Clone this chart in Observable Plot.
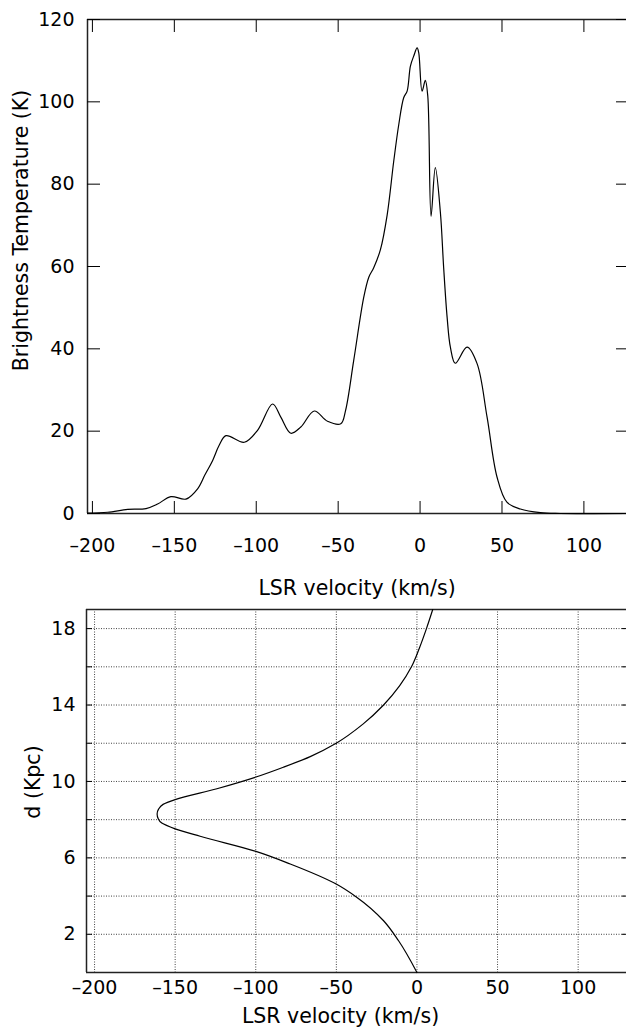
<!DOCTYPE html>
<html><head><meta charset="utf-8">
<script src="https://cdn.jsdelivr.net/npm/d3@7"></script>
<script src="https://cdn.jsdelivr.net/npm/@observablehq/plot@0.6"></script>
<style>body{margin:0;background:#fff;} #c svg{display:block;}</style>
</head><body><div id="c"></div>
<script>
// ---- data ----
const topVelocity = [-203, -190.7, -178.5, -167.3, -160.2, -152.1, -142.9, -135.8, -131.3, -126.6, -122.7, -118.5, -107.3, -99.2, -90.0, -85.0, -78.9, -72.8, -64.6, -56.5, -48.4, -45.5, -40.5, -34.4, -31.3, -28.3, -24.2, -20.1, -16.1, -13.0, -10.0, -7.9, -5.9, -3.9, -1.8, -0.8, 1.2, 3.2, 4.7, 6.7, 9.3, 12.4, 14.4, 16.5, 18.5, 21.5, 28.7, 34.8, 40.9, 47.0, 53.0, 61.2, 73.4, 85.5, 126];
const topTemperature = [0.1, 0.3, 1.0, 1.2, 2.3, 4.1, 3.5, 6.0, 9.4, 12.9, 16.5, 18.9, 17.3, 20.2, 26.6, 23.4, 19.5, 21.0, 24.9, 22.4, 21.8, 25.0, 37.2, 52.5, 57.4, 59.7, 64.1, 72.5, 85.5, 94.5, 101.0, 102.6, 108.7, 111.1, 113.1, 111.9, 102.6, 105.2, 101.4, 72.2, 84.0, 73.1, 59.7, 47.7, 40.4, 36.5, 40.4, 36.4, 23.4, 8.8, 2.75, 1.1, 0.2, 0, 0];
const curveDistance = [0, 1.66, 2.71, 3.93, 4.63, 5.68, 6.34, 7.13, 7.52, 7.82, 8.05, 8.3, 8.55, 8.8, 9.05, 9.62, 10.23, 10.75, 11.3, 12.0, 13.0, 14.0, 15.0, 16.0, 17.0, 18.0, 19.0];
const curveVelocity = [0, -11.4, -20.7, -37.2, -50.1, -78.6, -99.9, -134.5, -150, -158.3, -160.5, -161.2, -160.3, -157.5, -150, -124.1, -99.9, -82.7, -66.2, -50.1, -33.5, -20.7, -10.8, -3.4, 1.6, 5.9, 9.8];

const velocityTicks = [-200, -150, -100, -50, 0, 50, 100];
const temperatureTicks = [0, 20, 40, 60, 80, 100, 120];
const distanceLabelTicks = [2, 6, 10, 14, 18];
const distanceGridTicks = [2, 4, 6, 8, 10, 12, 14, 16, 18];
const topXDomain = [-203, 126];
const topYDomain = [0, 120];
const botXDomain = [-205, 130];
const botYDomain = [0, 19];
const xLabel = "LSR velocity (km/s)";
const topYLabel = "Brightness Temperature (K)";
const botYLabel = "d (Kpc)";

// ---- build ----
const fmt = d => d < 0 ? "\u2013" + Math.abs(d) : String(d);
const blank = () => "";
const spectrum = topVelocity.map((v, i) => ({v, t: topTemperature[i]}));
const rotation = curveDistance.map((d, i) => ({d, v: curveVelocity[i]}));
const font = "'DejaVu Sans', sans-serif";
const style = {fontFamily: font, fontSize: "19px", background: "white", color: "black", overflow: "visible"};
const frameStyle = {stroke: "#222", strokeWidth: 1.5};
const labelStyle = {text: d => d, fontSize: 20.5, textAnchor: "middle", lineAnchor: "middle"};
const tickStyle = {stroke: "#444", label: null};

const topChart = Plot.plot({
  width: 626, height: 600,
  marginTop: 19, marginBottom: 87, marginLeft: 87, marginRight: 0,
  style,
  x: {domain: topXDomain, label: null},
  y: {domain: topYDomain, label: null},
  marks: [
    Plot.ruleY([topYDomain[0], topYDomain[1]], frameStyle),
    Plot.ruleX([topXDomain[0]], frameStyle),
    Plot.axisX(velocityTicks, {anchor: "bottom", tickSize: -12, tickPadding: 37, tickFormat: fmt, label: null}),
    Plot.axisX(velocityTicks, {anchor: "top", tickSize: -12, tickFormat: blank, label: null}),
    Plot.axisY(temperatureTicks, {anchor: "left", tickSize: -13, tickPadding: 26, tickFormat: fmt, label: null}),
    Plot.axisY(temperatureTicks, {anchor: "right", tickSize: -11, tickFormat: blank, label: null}),
    Plot.line(spectrum, {x: "v", y: "t", curve: "catmull-rom", stroke: "black", strokeWidth: 1.2}),
    Plot.text([xLabel], {...labelStyle, frameAnchor: "bottom", dy: 75}),
    Plot.text([topYLabel], {...labelStyle, frameAnchor: "left", rotate: -90, dx: -66, dy: -36})
  ]
});

const grid = {stroke: "#444", strokeOpacity: 1, strokeDasharray: "1,1.5", strokeWidth: 1};
const bottomChart = Plot.plot({
  width: 626, height: 428,
  marginTop: 9, marginBottom: 56, marginLeft: 86, marginRight: 0,
  style,
  x: {domain: botXDomain, label: null},
  y: {domain: botYDomain, label: null},
  marks: [
    Plot.gridX(velocityTicks, grid),
    Plot.gridY(distanceGridTicks, grid),
    Plot.ruleY([botYDomain[0], botYDomain[1]], frameStyle),
    Plot.ruleX([botXDomain[0]], frameStyle),
    Plot.axisY(distanceGridTicks, {anchor: "left", tickSize: -6, tickFormat: blank, label: null}),
    Plot.axisY(distanceLabelTicks, {anchor: "left", tickSize: 0, tickPadding: 11, tickFormat: fmt, label: null}),
    Plot.axisY(distanceGridTicks, {anchor: "right", tickSize: -5, tickFormat: blank, label: null}),
    Plot.axisX(velocityTicks, {anchor: "bottom", tickSize: 0, tickPadding: 8, tickFormat: fmt, label: null}),
    Plot.line(rotation, {x: "v", y: "d", curve: "monotone-y", stroke: "black", strokeWidth: 1.2}),
    Plot.text([xLabel], {...labelStyle, frameAnchor: "bottom", dx: -16, dy: 44}),
    Plot.text([botYLabel], {...labelStyle, frameAnchor: "left", rotate: -90, dx: -53, dy: -9})
  ]
});

document.getElementById("c").append(topChart, bottomChart);
</script>
</body></html>
